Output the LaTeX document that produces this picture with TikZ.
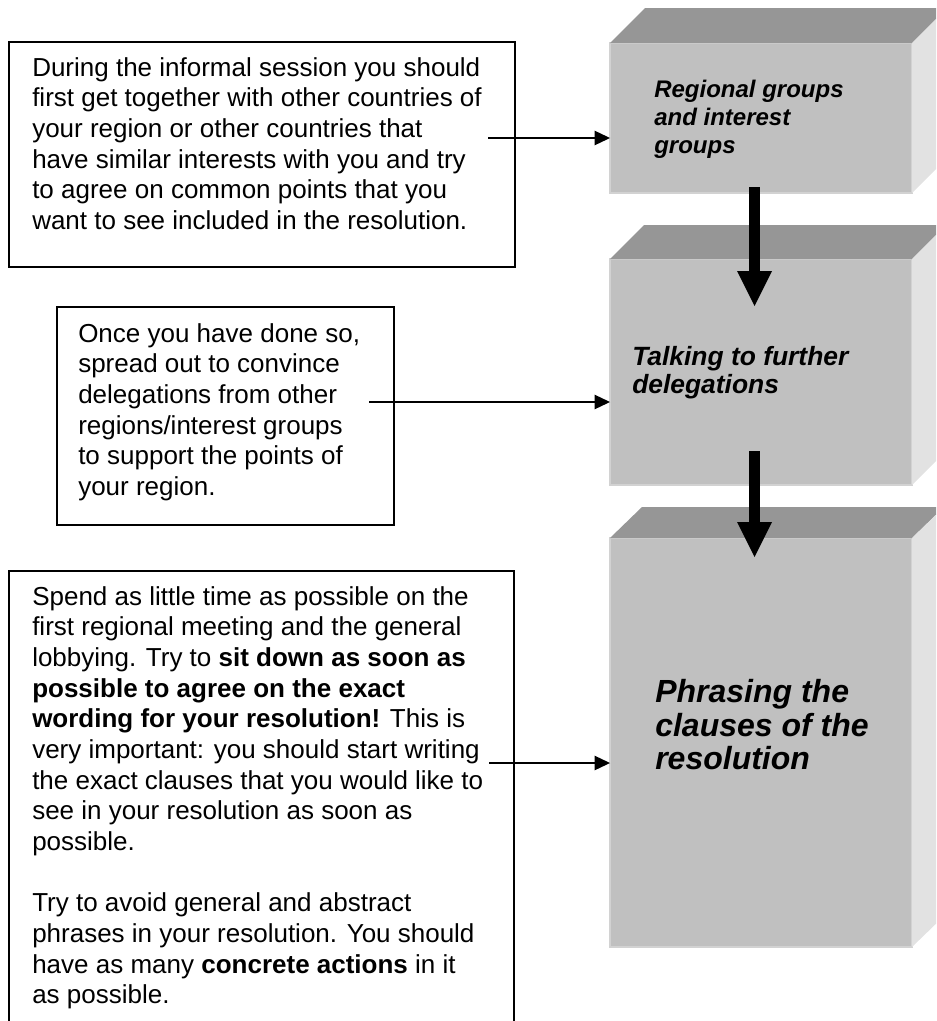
\documentclass[tikz,border=0pt]{standalone}
\usepackage{fontspec}
\setmainfont{Liberation Sans}
\usetikzlibrary{arrows.meta,fit}
\definecolor{frontgray}{RGB}{192,192,192}
\definecolor{topgray}{RGB}{150,150,150}
\definecolor{sidegray}{RGB}{226,226,226}
\definecolor{edgegray}{RGB}{210,210,210}
\begin{document}
\begin{tikzpicture}[x=0.75pt,y=-0.75pt,
  tbox/.style={draw=black, line width=1.3pt, inner sep=0pt, outer sep=0pt},
  bodytext/.style={anchor=north west, inner sep=0pt, align=left,
    font=\fontsize{19.5pt}{23pt}\selectfont},
  front/.style={fill=frontgray, draw=edgegray, line width=1pt, inner sep=0pt, outer sep=0pt},
  topface/.style={fill=topgray},
  sideface/.style={fill=sidegray},
  steptext/.style={anchor=north west, inner sep=0pt, align=left},
  thinarrow/.style={line width=1.5pt, -{Triangle[length=11.5pt,width=11pt,line width=0pt]}},
  bigarrow/.style={line width=8.25pt, -{Triangle[length=26.25pt,width=26.25pt,line width=0pt]}}
]
\useasboundingbox (0,0) rectangle (936,1021);
\clip (0,0) rectangle (936,1021);

% ---- left text boxes ----
\node[tbox, fit={(9,42) (515,267)}] (b1) {};
\node[bodytext] (t1) at (32,54.5) {\strut During the informal session you should\\
first get together with other countries of\\
your region or other countries that\\
have similar interests with you and try\\
to agree on common points that you\\
want to see included in the resolution.};

\node[tbox, fit={(57,307) (394,525)}] (b2) {};
\node[bodytext] (t2) at (78,320.5) {\strut Once you have done so,\\
spread out to convince\\
delegations from other\\
regions/interest groups\\
to support the points of\\
your region.};

\node[tbox, fit={(9,571) (514,1045)}] (b3) {};
\node[bodytext] (t3) at (32,583.5) {\strut Spend as little time as possible on the\\
first regional meeting and the general\\
lobbying. Try to \textbf{sit down as soon as}\\
\textbf{possible to agree on the exact}\\
\textbf{wording for your resolution!} This is\\
very important: you should start writing\\
the exact clauses that you would like to\\
see in your resolution as soon as\\
possible.\\
\strut\\
Try to avoid general and abstract\\
phrases in your resolution. You should\\
have as many \textbf{concrete actions} in it\\
as possible.};

% ---- 3D boxes ----
\node[front, fit={(610,43) (912,193)}] (fa) {};
\fill[topface] (fa.north west) -- ++(35,-35) -- ++(302,0) -- (fa.north east) -- cycle;
\fill[sideface] (fa.north east) -- ++(35,-35) -- ++(0,150) -- (fa.south east) -- cycle;
\node[steptext, font=\fontsize{18pt}{21pt}\selectfont\bfseries\itshape] (la) at (654,78)
  {\strut Regional groups\\and interest\\groups};

\node[front, fit={(610,259) (912,485)}] (fb) {};
\fill[topface] (fb.north west) -- ++(34,-34) -- ++(302,0) -- (fb.north east) -- cycle;
\fill[sideface] (fb.north east) -- ++(34,-34) -- ++(0,226) -- (fb.south east) -- cycle;
\node[steptext, font=\fontsize{19.8pt}{21pt}\selectfont\bfseries\itshape] (lb) at (632,345.5)
  {\strut Talking to further\\delegations};

\node[front, fit={(610,538) (912,947)}] (fc) {};
\fill[topface] (fc.north west) -- ++(32,-31) -- ++(302,0) -- (fc.north east) -- cycle;
\fill[sideface] (fc.north east) -- ++(32,-31) -- ++(0,409) -- (fc.south east) -- cycle;
\node[steptext, font=\fontsize{24pt}{24.75pt}\selectfont\bfseries\itshape] (lc) at (655,679)
  {\strut Phrasing the\\clauses of the\\resolution};

% ---- connectors ----
\coordinate (s1) at (488,138);
\coordinate (s2) at (369,402);
\coordinate (s3) at (489,763);
\draw[thinarrow] (s1) -- (s1 -| fa.west);
\draw[thinarrow] (s2) -- (s2 -| fb.west);
\draw[thinarrow] (s3) -- (s3 -| fc.west);

\coordinate (ab1) at (754.5,187);
\coordinate (ab2) at (754.5,306);
\coordinate (bc1) at (754.5,451);
\coordinate (bc2) at (754.5,557);
\draw[bigarrow] (ab1) -- (ab2);
\draw[bigarrow] (bc1) -- (bc2);
\end{tikzpicture}
\end{document}
